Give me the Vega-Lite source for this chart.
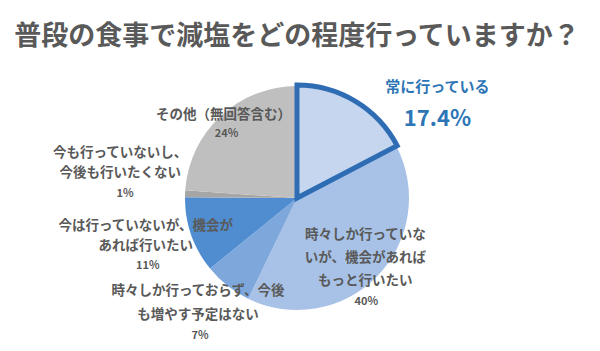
{
  "$schema": "https://vega.github.io/schema/vega-lite/v6.json",
  "autosize": "none",
  "width": 594,
  "height": 296,
  "padding": {"top": 50, "left": 0, "right": 6, "bottom": 5},
  "background": "white",
  "config": {"view": {"stroke": null}, "font": "Noto Sans CJK JP"},
  "title": {
    "text": "普段の食事で減塩をどの程度行っていますか？",
    "font": "Noto Sans CJK JP",
    "fontSize": 27,
    "fontWeight": "bold",
    "color": "#595959",
    "anchor": "middle",
    "offset": 6,
    "dy": 56
  },
  "data": {
    "values": [
      {"order": 1, "category": "常に行っている", "label": "常に行っている", "value": 17.4, "pct": "17.4%"},
      {"order": 2, "category": "時々しか行っていないが、機会があればもっと行いたい", "label": "時々しか行っていな\nいが、機会があれば\nもっと行いたい", "value": 40, "pct": "40%"},
      {"order": 3, "category": "時々しか行っておらず、今後も増やす予定はない", "label": "時々しか行っておらず、今後\nも増やす予定はない", "value": 7, "pct": "7%"},
      {"order": 4, "category": "今は行っていないが、機会があれば行いたい", "label": "今は行っていないが、機会が\nあれば行いたい", "value": 11, "pct": "11%"},
      {"order": 5, "category": "今も行っていないし、今後も行いたくない", "label": "今も行っていないし、\n今後も行いたくない", "value": 1, "pct": "1%"},
      {"order": 6, "category": "その他（無回答含む）", "label": "その他（無回答含む）", "value": 24, "pct": "24%"}
    ]
  },
  "encoding": {
    "theta": {"field": "value", "type": "quantitative", "stack": true},
    "order": {"field": "order", "type": "quantitative"},
    "detail": {"field": "order", "type": "nominal"}
  },
  "layer": [
    {
      "mark": {"type": "arc", "outerRadius": 112},
      "encoding": {
        "color": {
          "field": "order", "type": "nominal", "legend": null,
          "scale": {"domain": [1, 2, 3, 4, 5, 6], "range": ["#c5d6ee", "#a7c2e6", "#7ea8dc", "#4f8dd0", "#a6a6a6", "#bfbfbf"]}
        }
      }
    },
    {
      "mark": {"type": "arc", "outerRadius": 113, "fillOpacity": 0, "stroke": "#2e6db4", "strokeWidth": 5, "strokeJoin": "miter"},
      "encoding": {
        "strokeOpacity": {"condition": {"test": "datum.order == 1", "value": 1}, "value": 0}
      }
    },
    {
      "mark": {"type": "text", "radius": 167, "dx": 54, "dy": 32, "fontSize": 15, "fontWeight": "bold", "color": "#2e75b6", "lineBreak": "\n"},
      "encoding": {"text": {"condition": {"test": "datum.order == 1", "field": "label"}, "value": ""}}
    },
    {
      "mark": {"type": "text", "radius": 167, "dx": 54, "dy": 64, "fontSize": 22, "fontWeight": "bold", "color": "#2e75b6"},
      "encoding": {"text": {"condition": {"test": "datum.order == 1", "field": "pct"}, "value": ""}}
    },
    {
      "mark": {"type": "text", "radius": 91, "dx": 3, "dy": -26, "fontSize": 13.5, "fontWeight": "bold", "color": "#595959", "lineBreak": "\n", "lineHeight": 23},
      "encoding": {"text": {"condition": {"test": "datum.order == 2", "field": "label"}, "value": ""}}
    },
    {
      "mark": {"type": "text", "radius": 91, "dx": 4, "dy": 41, "fontSize": 11, "fontWeight": "bold", "color": "#595959"},
      "encoding": {"text": {"condition": {"test": "datum.order == 2", "field": "pct"}, "value": ""}}
    },
    {
      "mark": {"type": "text", "radius": 145, "dx": -9, "dy": -21, "fontSize": 13.5, "fontWeight": "bold", "color": "#595959", "lineBreak": "\n", "lineHeight": 24},
      "encoding": {"text": {"condition": {"test": "datum.order == 3", "field": "label"}, "value": ""}}
    },
    {
      "mark": {"type": "text", "radius": 145, "dx": -7, "dy": 24, "fontSize": 11, "fontWeight": "bold", "color": "#595959"},
      "encoding": {"text": {"condition": {"test": "datum.order == 3", "field": "pct"}, "value": ""}}
    },
    {
      "mark": {"type": "text", "radius": 155, "dx": -5, "dy": -23, "fontSize": 13.5, "fontWeight": "bold", "color": "#595959", "lineBreak": "\n", "lineHeight": 20},
      "encoding": {"text": {"condition": {"test": "datum.order == 4", "field": "label"}, "value": ""}}
    },
    {
      "mark": {"type": "text", "radius": 155, "dx": -3, "dy": 17, "fontSize": 11, "fontWeight": "bold", "color": "#595959"},
      "encoding": {"text": {"condition": {"test": "datum.order == 4", "field": "pct"}, "value": ""}}
    },
    {
      "mark": {"type": "text", "radius": 178, "dx": 1, "dy": -38, "fontSize": 13.5, "fontWeight": "bold", "color": "#595959", "lineBreak": "\n", "lineHeight": 20},
      "encoding": {"text": {"condition": {"test": "datum.order == 5", "field": "label"}, "value": ""}}
    },
    {
      "mark": {"type": "text", "radius": 178, "dx": 6, "dy": 3, "fontSize": 11, "fontWeight": "bold", "color": "#595959"},
      "encoding": {"text": {"condition": {"test": "datum.order == 5", "field": "pct"}, "value": ""}}
    },
    {
      "mark": {"type": "text", "radius": 112, "dx": 3, "dy": -1, "fontSize": 13.5, "fontWeight": "bold", "color": "#595959", "lineBreak": "\n"},
      "encoding": {"text": {"condition": {"test": "datum.order == 6", "field": "label"}, "value": ""}}
    },
    {
      "mark": {"type": "text", "radius": 112, "dx": 6, "dy": 18, "fontSize": 11, "fontWeight": "bold", "color": "#595959"},
      "encoding": {"text": {"condition": {"test": "datum.order == 6", "field": "pct"}, "value": ""}}
    }
  ]
}
